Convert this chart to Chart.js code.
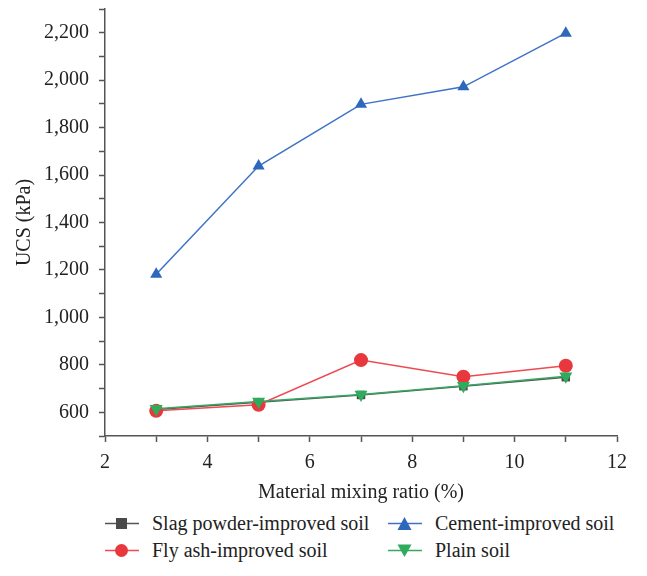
<!DOCTYPE html>
<html>
<head>
<meta charset="utf-8">
<script src="https://cdn.jsdelivr.net/npm/chart.js@4.4.1/dist/chart.umd.min.js"></script>
<style>
  body { margin: 0; background: #fff; }
  #wrap { position: relative; width: 647px; height: 576px; }
  #box { position: absolute; left: 0; top: 0; width: 647px; height: 505px; }
  .leg { position: absolute; font-family: "Liberation Serif", "DejaVu Serif", serif; font-size: 20px; color: #222; display: flex; align-items: center; white-space: nowrap; }
  .leg svg { margin-right: 13px; }
</style>
</head>
<body>
<div id="wrap">
  <div id="box"><canvas id="myChart"></canvas></div>
  <div id="legend"></div>
</div>
<script>
// Chart data
const ratios = [3, 5, 7, 9, 11];
const slagSoil = [612, 642, 673, 710, 748];
const flyAshSoil = [606, 632, 820, 750, 796];
const cementSoil = [1182, 1638, 1898, 1972, 2198];
const plainSoil = [615, 645, 675, 712, 752];
const seriesNames = ['Slag powder-improved soil', 'Fly ash-improved soil', 'Cement-improved soil', 'Plain soil'];

const serif = '"Liberation Serif", "DejaVu Serif", serif';
const axisColor = '#555';

function toPoints(vals) {
    return vals.map((v, i) => ({ x: ratios[i], y: v }));
}

// Dataset styles (order: lower is drawn on top)
const styles = [
    { line: '#555555', fill: '#4a4a4a', point: 'rect', rot: 0, r: 6, order: 3 },
    { line: '#ee4a50', fill: '#e8383d', point: 'circle', rot: 0, r: 7, order: 2 },
    { line: '#3d72c6', fill: '#2e68bd', point: 'triangle', rot: 0, r: 7, order: 1 },
    { line: '#35a862', fill: '#2fab5c', point: 'triangle', rot: 180, r: 7.5, order: 0 }
];
const allValues = [slagSoil, flyAshSoil, cementSoil, plainSoil];

const datasets = allValues.map((vals, i) => ({
    label: seriesNames[i],
    data: toPoints(vals),
    borderColor: styles[i].line,
    backgroundColor: styles[i].fill,
    borderWidth: 1.5,
    pointStyle: styles[i].point,
    rotation: styles[i].rot,
    pointRadius: styles[i].r,
    pointBorderWidth: 0,
    order: styles[i].order,
    tension: 0
}));

const canvas = document.getElementById('myChart');
const ctx = canvas.getContext('2d');

const myChart = new Chart(ctx, {
    type: 'line',
    data: { datasets: datasets },
    options: {
        responsive: true,
        maintainAspectRatio: false,
        animation: false,
        layout: { padding: { left: 9, right: 30, top: 9, bottom: 0 } },
        plugins: {
            legend: { display: false },
            tooltip: { enabled: false }
        },
        scales: {
            x: {
                type: 'linear',
                min: 2,
                max: 12,
                afterFit: function(scale) { scale.height = 69; },
                ticks: {
                    stepSize: 1,
                    autoSkip: false,
                    maxRotation: 0,
                    padding: 9,
                    color: '#222',
                    font: { family: serif, size: 20 },
                    callback: function(value) { return value % 2 === 0 ? String(value) : ''; }
                },
                grid: { drawOnChartArea: false, tickLength: 6, tickColor: axisColor, tickWidth: 1.5 },
                border: { color: axisColor, width: 1.5 },
                title: {
                    display: true,
                    text: 'Material mixing ratio (%)',
                    color: '#222',
                    font: { family: serif, size: 20 },
                    padding: { top: 11, bottom: 0 }
                }
            },
            y: {
                min: 500,
                max: 2300,
                afterFit: function(scale) { scale.width = 96; scale.paddingTop = 0; },
                ticks: {
                    stepSize: 100,
                    autoSkip: false,
                    padding: 10,
                    color: '#222',
                    font: { family: serif, size: 20 },
                    callback: function(value) { return value % 200 === 0 ? value.toLocaleString('en-US') : ''; }
                },
                grid: { drawOnChartArea: false, tickLength: 6, tickColor: axisColor, tickWidth: 1.5 },
                border: { color: axisColor, width: 1.5 },
                title: {
                    display: true,
                    text: 'UCS (kPa)',
                    color: '#222',
                    font: { family: serif, size: 20 },
                    padding: { bottom: 4 }
                }
            }
        }
    }
});

// Legend in two columns, built from the same names and styles
const legendPos = [
    { left: 105, top: 512 },
    { left: 105, top: 539 },
    { left: 388, top: 512 },
    { left: 388, top: 539 }
];
function markerSvg(st) {
    let shape = '';
    if (st.point === 'rect') {
        shape = '<rect x="11" y="6" width="11" height="11" fill="' + st.fill + '"/>';
    } else if (st.point === 'circle') {
        shape = '<circle cx="16.5" cy="11.5" r="6.5" fill="' + st.fill + '"/>';
    } else if (st.rot === 180) {
        shape = '<polygon points="9.5,5.5 23.5,5.5 16.5,18" fill="' + st.fill + '"/>';
    } else {
        shape = '<polygon points="9.5,18 23.5,18 16.5,5" fill="' + st.fill + '"/>';
    }
    return '<svg width="34" height="23"><line x1="0" y1="11.5" x2="34" y2="11.5" stroke="' + st.line + '" stroke-width="1.5"/>' + shape + '</svg>';
}
const legendEl = document.getElementById('legend');
seriesNames.forEach(function(name, i) {
    const item = document.createElement('div');
    item.className = 'leg';
    item.style.left = legendPos[i].left + 'px';
    item.style.top = legendPos[i].top + 'px';
    item.innerHTML = markerSvg(styles[i]) + '<span>' + name + '</span>';
    legendEl.appendChild(item);
});
</script>
</body>
</html>
